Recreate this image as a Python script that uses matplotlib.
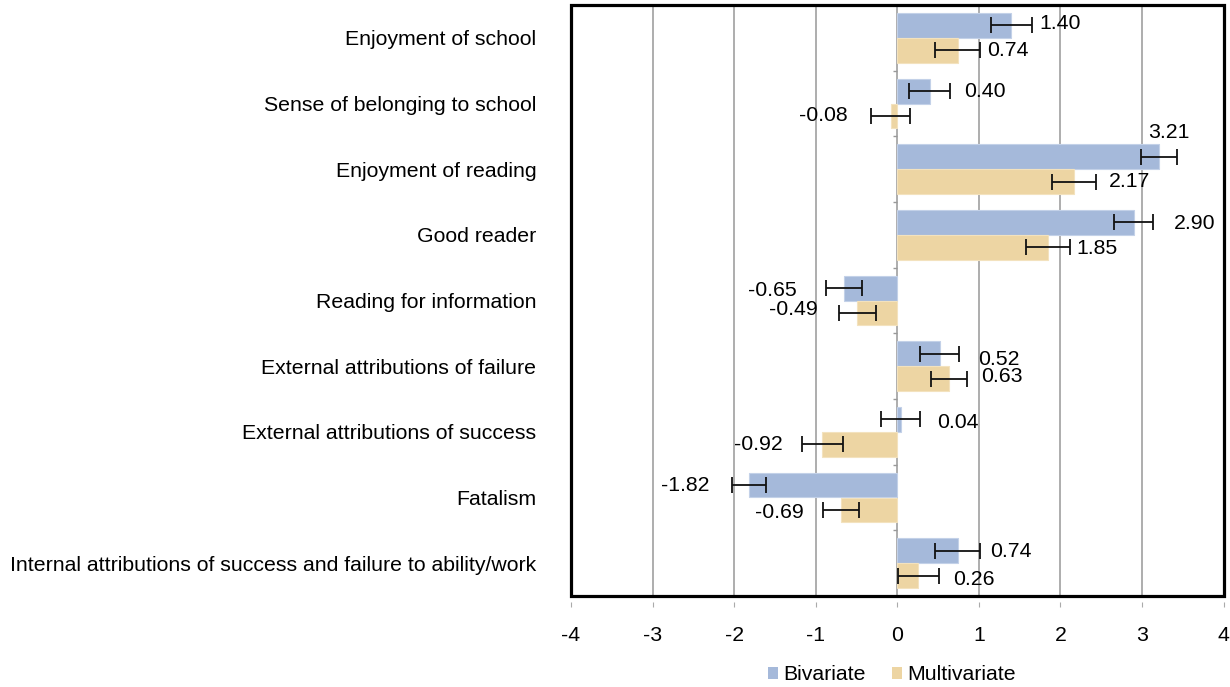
import numpy as np
import matplotlib
matplotlib.use("Agg")
import matplotlib.pyplot as plt
from matplotlib.patches import Patch, Rectangle

plt.rcParams['font.family'] = ['Liberation Sans', 'DejaVu Sans']

categories = ['Enjoyment of school', 'Sense of belonging to school', 'Enjoyment of reading',
              'Good reader', 'Reading for information', 'External attributions of failure',
              'External attributions of success', 'Fatalism',
              'Internal attributions of success and failure to ability/work']
bivariate = [1.40, 0.40, 3.21, 2.90, -0.65, 0.52, 0.04, -1.82, 0.74]
bivariate_err = [0.25, 0.25, 0.22, 0.24, 0.22, 0.24, 0.24, 0.21, 0.28]
multivariate = [0.74, -0.08, 2.17, 1.85, -0.49, 0.63, -0.92, -0.69, 0.26]
multivariate_err = [0.28, 0.24, 0.27, 0.27, 0.23, 0.22, 0.25, 0.22, 0.25]
xticks = [-4, -3, -2, -1, 0, 1, 2, 3, 4]

# label nudges (pixels from the end of the error bar, y up)
bi_nudge = [(8, 2), (14, 0), (-8, 24), (21, -1), (-30, -2), (19, -6), (17, -3), (-22, 0), (10, -1)]
mu_nudge = [(7, 0), (-24, 0), (13, 0), (6, -1), (-21, 3), (15, 2), (-19, 0), (-19, -3), (14, -4)]

col_bi = '#A5B9DA'
col_mu = '#EDD5A3'
fs = 15.3

fig = plt.figure(figsize=(12.3, 6.87), dpi=100)
ax = fig.add_axes([571 / 1230, 1 - 596 / 687, (1223.5 - 571) / 1230, (596 - 5) / 687])

y = np.arange(len(categories))
h = 0.38
ax.barh(y - h / 2, bivariate, height=h, color=col_bi, edgecolor='#C3D1E8', linewidth=0.8, zorder=2)
ax.barh(y + h / 2, multivariate, height=h, color=col_mu, edgecolor='#F3E2BE', linewidth=0.8, zorder=2)
ax.errorbar(bivariate, y - h / 2, xerr=bivariate_err, fmt='none', ecolor='#111111',
            elinewidth=1.3, capsize=6, capthick=1.3, zorder=3)
ax.errorbar(multivariate, y + h / 2, xerr=multivariate_err, fmt='none', ecolor='#111111',
            elinewidth=1.3, capsize=6, capthick=1.3, zorder=3)

for vals, errs, nudges, off in [(bivariate, bivariate_err, bi_nudge, -h / 2),
                                (multivariate, multivariate_err, mu_nudge, h / 2)]:
    for i, (v, e, (dx, dy)) in enumerate(zip(vals, errs, nudges)):
        end = v + e if v >= 0 else v - e
        if dx < 0 and dy > 10:
            ha = 'center'
        elif dx < 0:
            ha = 'right'
        else:
            ha = 'left'
        ax.annotate(f'{v:.2f}', (end, i + off), xytext=(dx, dy), textcoords='offset pixels',
                    ha=ha, va='center', fontsize=fs, color='black', zorder=4)

# small ticks on the zero line between groups
ax.hlines(np.arange(len(categories) - 1) + 0.5, -0.05, 0, color='#999999', linewidth=1, zorder=1)

ax.set_xlim(-4, 4)
ax.set_ylim(len(categories) - 0.5, -0.5)
ax.set_xticks(xticks)
ax.set_xticklabels([str(t) for t in xticks])
ax.set_yticks(y)
ax.set_yticklabels(categories)
ax.grid(axis='x', color='#A0A0A0', linewidth=1.2, zorder=0)
ax.set_axisbelow(True)

for s in ax.spines.values():
    s.set_visible(False)
ax.spines['bottom'].set_position(('outward', 4))
ax.tick_params(axis='x', length=3.5, color='#AAAAAA', pad=14, labelsize=fs)
ax.tick_params(axis='y', length=0, pad=25, labelsize=fs)

ax.add_patch(Rectangle((0, 0), 1, 1, transform=ax.transAxes, fill=False,
                       edgecolor='black', linewidth=2.3, clip_on=False, zorder=5))

handles = [Patch(facecolor=col_bi, label='Bivariate'), Patch(facecolor=col_mu, label='Multivariate')]
fig.legend(handles=handles, loc='center', bbox_to_anchor=(892 / 1230, 1 - 675 / 687), ncol=2,
           frameon=False, fontsize=fs, handlelength=0.5, handleheight=0.5,
           handletextpad=0.25, columnspacing=1.2)

fig.savefig('out.png', dpi=100)
